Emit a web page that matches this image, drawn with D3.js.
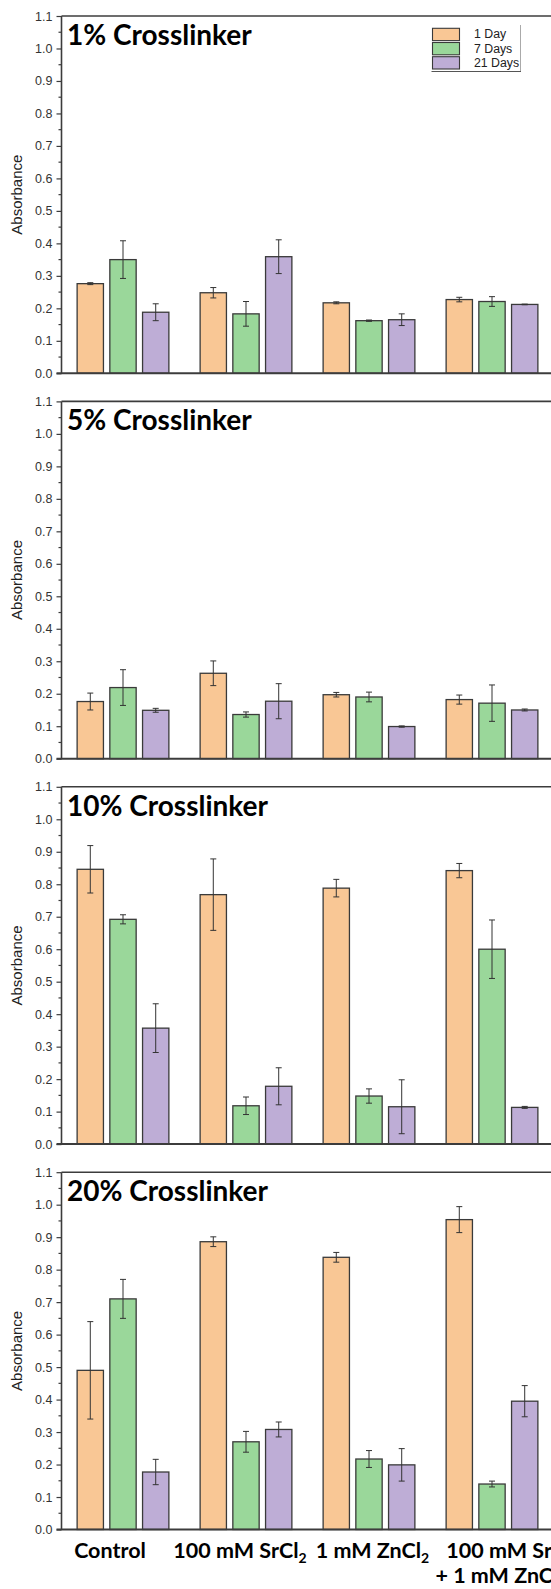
<!DOCTYPE html>
<html>
<head>
<meta charset="utf-8">
<script src="https://cdn.jsdelivr.net/npm/d3@7"></script>
<style>
  html, body { margin: 0; padding: 0; background: #fff; }
  svg { display: block; }
</style>
</head>
<body>
<svg id="chart" width="551" height="1589"></svg>
<script>
// Treatment groups along the x axis
const categories = ["Control", "100 mM SrCl2", "1 mM ZnCl2", "100 mM SrCl2 + 1 mM ZnCl2"];
// Incubation times (series)
const seriesNames = ["1 Day", "7 Days", "21 Days"];
// Crosslinker concentration of each panel
const panelTitles = ["1% Crosslinker", "5% Crosslinker", "10% Crosslinker", "20% Crosslinker"];
// Y axis tick values
const yTicks = [0.0, 0.1, 0.2, 0.3, 0.4, 0.5, 0.6, 0.7, 0.8, 0.9, 1.0, 1.1];

// Absorbance means and standard deviations, one array per panel and series
const cl1Day1 = [0.276, 0.248, 0.217, 0.227];
const cl1Day1Err = [0.003, 0.016, 0.003, 0.007];
const cl1Day7 = [0.350, 0.183, 0.162, 0.221];
const cl1Day7Err = [0.058, 0.038, 0.002, 0.015];
const cl1Day21 = [0.188, 0.359, 0.165, 0.212];
const cl1Day21Err = [0.026, 0.052, 0.018, 0.001];

const cl5Day1 = [0.176, 0.263, 0.197, 0.182];
const cl5Day1Err = [0.026, 0.038, 0.007, 0.014];
const cl5Day7 = [0.219, 0.136, 0.190, 0.171];
const cl5Day7Err = [0.055, 0.008, 0.015, 0.056];
const cl5Day21 = [0.149, 0.177, 0.099, 0.150];
const cl5Day21Err = [0.006, 0.054, 0.002, 0.003];

const cl10Day1 = [0.846, 0.768, 0.788, 0.842];
const cl10Day1Err = [0.073, 0.110, 0.027, 0.022];
const cl10Day7 = [0.692, 0.118, 0.148, 0.600];
const cl10Day7Err = [0.014, 0.027, 0.022, 0.090];
const cl10Day21 = [0.357, 0.178, 0.115, 0.113];
const cl10Day21Err = [0.075, 0.057, 0.083, 0.003];

const cl20Day1 = [0.490, 0.886, 0.838, 0.954];
const cl20Day1Err = [0.150, 0.015, 0.015, 0.040];
const cl20Day7 = [0.710, 0.270, 0.217, 0.140];
const cl20Day7Err = [0.060, 0.032, 0.026, 0.009];
const cl20Day21 = [0.177, 0.308, 0.199, 0.395];
const cl20Day21Err = [0.039, 0.023, 0.050, 0.048];

const panelData = [
  { means: [cl1Day1, cl1Day7, cl1Day21], errs: [cl1Day1Err, cl1Day7Err, cl1Day21Err] },
  { means: [cl5Day1, cl5Day7, cl5Day21], errs: [cl5Day1Err, cl5Day7Err, cl5Day21Err] },
  { means: [cl10Day1, cl10Day7, cl10Day21], errs: [cl10Day1Err, cl10Day7Err, cl10Day21Err] },
  { means: [cl20Day1, cl20Day7, cl20Day21], errs: [cl20Day1Err, cl20Day7Err, cl20Day21Err] }
];

// ---- styling and layout ----
const fills = ["#F9C795", "#9AD79A", "#BEADD6"];
const barStroke = "#3a3a3a";
const axisColor = "#3c3c3c";
const titleFont = "Lato, 'Open Sans', sans-serif";
const tickFont = "'Liberation Sans', Arial, sans-serif";

const svg = d3.select("#chart");
const left = 61.5;
const right = 553.5;
const panelTop0 = 16;
const panelStep = 385.4;
const panelH = 357.3;

const x = d3.scaleLinear().domain([0.5, 4.5]).range([left, right]);
const barOffset = 0.266;   // distance between neighbouring bars, in category units
const barWidth = 0.214;    // bar width, in category units
const capHalf = 3;

panelData.forEach((pd, p) => {
  const top = panelTop0 + p * panelStep;
  const bottom = top + panelH;
  const y = d3.scaleLinear().domain([0, 1.1]).range([bottom, top]);
  const g = svg.append("g");

  // bars
  pd.means.forEach((vals, s) => {
    g.selectAll(null)
      .data(vals)
      .enter()
      .append("rect")
      .attr("x", (d, i) => x(i + 1 + (s - 1) * barOffset - barWidth / 2))
      .attr("y", d => y(d))
      .attr("width", x(barWidth) - x(0))
      .attr("height", d => y(0) - y(d))
      .attr("fill", fills[s])
      .attr("stroke", barStroke)
      .attr("stroke-width", 1.3);
  });

  // error bars
  pd.means.forEach((vals, s) => {
    const errs = pd.errs[s];
    vals.forEach((v, i) => {
      const cx = x(i + 1 + (s - 1) * barOffset);
      const y1 = y(v + errs[i]);
      const y2 = y(v - errs[i]);
      const eg = g.append("g").attr("stroke", "#333").attr("stroke-width", 1);
      eg.append("line").attr("x1", cx).attr("x2", cx).attr("y1", y1).attr("y2", y2);
      eg.append("line").attr("x1", cx - capHalf).attr("x2", cx + capHalf).attr("y1", y1).attr("y2", y1);
      eg.append("line").attr("x1", cx - capHalf).attr("x2", cx + capHalf).attr("y1", y2).attr("y2", y2);
    });
  });

  // left axis with major and minor ticks
  const yAxis = d3.axisLeft(y)
    .tickValues(yTicks)
    .tickFormat(d3.format(".1f"))
    .tickSize(5)
    .tickPadding(4);
  const ag = g.append("g").attr("transform", `translate(${left},0)`).call(yAxis);
  ag.select(".domain").remove();
  ag.selectAll(".tick line").attr("stroke", axisColor).attr("stroke-width", 1.2);
  ag.selectAll(".tick text")
    .attr("font-family", tickFont)
    .attr("font-size", 12.5)
    .attr("fill", "#333");

  const minor = d3.range(0.05, 1.1, 0.1);
  g.selectAll(null)
    .data(minor)
    .enter()
    .append("line")
    .attr("x1", left - 3)
    .attr("x2", left)
    .attr("y1", d => y(d))
    .attr("y2", d => y(d))
    .attr("stroke", axisColor)
    .attr("stroke-width", 1.2);

  // frame: left spine, top line, bottom axis
  g.append("line").attr("x1", left).attr("x2", left).attr("y1", top).attr("y2", bottom)
    .attr("stroke", axisColor).attr("stroke-width", 1.6);
  g.append("line").attr("x1", left).attr("x2", right).attr("y1", top).attr("y2", top)
    .attr("stroke", axisColor).attr("stroke-width", 1.6);
  g.append("line").attr("x1", left - 5).attr("x2", right).attr("y1", bottom).attr("y2", bottom)
    .attr("stroke", axisColor).attr("stroke-width", 2);

  // panel title
  g.append("text")
    .attr("x", 67)
    .attr("y", top + 29)
    .attr("font-family", titleFont)
    .attr("font-weight", 700)
    .attr("font-size", 28)
    .attr("fill", "#000")
    .text(panelTitles[p]);

  // y axis title
  g.append("text")
    .attr("transform", `translate(22,${(top + bottom) / 2}) rotate(-90)`)
    .attr("text-anchor", "middle")
    .attr("font-family", tickFont)
    .attr("font-size", 15)
    .attr("fill", "#222")
    .text("Absorbance");
});

// legend in the first panel
const lg = svg.append("g");
const legendX = 432.5;
const legendY = 28.3;
const rowH = 14.2;
seriesNames.forEach((name, s) => {
  lg.append("rect")
    .attr("x", legendX)
    .attr("y", legendY + s * rowH)
    .attr("width", 27)
    .attr("height", 12.3)
    .attr("fill", fills[s])
    .attr("stroke", barStroke)
    .attr("stroke-width", 1.1);
  lg.append("text")
    .attr("x", 474)
    .attr("y", legendY + s * rowH + 10)
    .attr("font-family", tickFont)
    .attr("font-size", 12.3)
    .attr("fill", "#222")
    .text(name);
});
lg.append("line").attr("x1", 520.5).attr("x2", 520.5).attr("y1", 25).attr("y2", 71.5)
  .attr("stroke", "#aaa").attr("stroke-width", 1);
lg.append("line").attr("x1", 431.5).attr("x2", 521).attr("y1", 71.5).attr("y2", 71.5)
  .attr("stroke", "#555").attr("stroke-width", 1);

// category labels under the last panel, chemical formulas with subscripts
const labelLines = [
  [["Control"]],
  [["100 mM SrCl", "2"]],
  [["1 mM ZnCl", "2"]],
  [["100 mM SrCl", "2"], ["+ 1 mM ZnCl", "2"]]
];
const labelShift = [-13, -6, 3.5, 21];
const lastBottom = panelTop0 + 3 * panelStep + panelH;
categories.forEach((cat, i) => {
  labelLines[i].forEach((parts, li) => {
    const t = svg.append("text")
      .attr("x", x(i + 1) + labelShift[i] - (li === 1 ? 12 : 0))
      .attr("y", lastBottom + 28 + li * 25)
      .attr("text-anchor", "middle")
      .attr("font-family", titleFont)
      .attr("font-weight", 700)
      .attr("font-size", 21.5)
      .attr("fill", "#000");
    t.append("tspan").text(parts[0]);
    if (parts[1]) {
      t.append("tspan")
        .attr("font-size", 14)
        .attr("dy", 5)
        .text(parts[1]);
    }
  });
});
</script>
</body>
</html>
